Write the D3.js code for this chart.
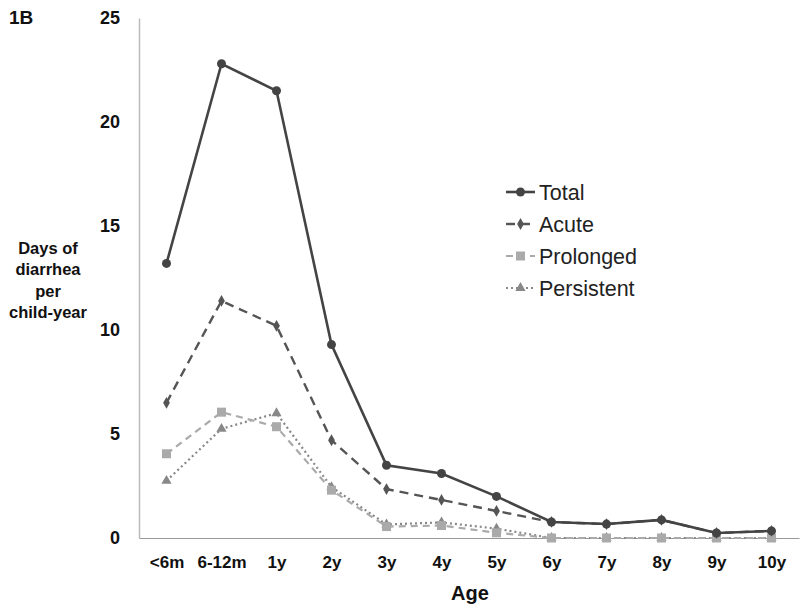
<!DOCTYPE html>
<html>
<head>
<meta charset="utf-8">
<script src="https://cdn.jsdelivr.net/npm/d3@7"></script>
<style>
  body { margin: 0; background: #fff; }
  svg { font-family: "Liberation Sans", Arial, sans-serif; }
</style>
</head>
<body>
<svg width="800" height="605"></svg>
<script>
const ages = ['<6m', '6-12m', '1y', '2y', '3y', '4y', '5y', '6y', '7y', '8y', '9y', '10y'];
const total = [13.2, 22.8, 21.5, 9.3, 3.5, 3.1, 2.0, 0.77, 0.67, 0.87, 0.24, 0.34];
const acute = [6.5, 11.4, 10.2, 4.7, 2.35, 1.83, 1.3, 0.77, 0.67, 0.87, 0.24, 0.34];
const prolonged = [4.05, 6.05, 5.35, 2.3, 0.55, 0.6, 0.25, 0, 0, 0, 0, 0];
const persistent = [2.75, 5.25, 6.0, 2.45, 0.65, 0.75, 0.45, 0, 0, 0, 0, 0];
const yTicks = [0, 5, 10, 15, 20, 25];

const series = [
  { name: 'Total', values: total, color: '#444', dash: null, width: 2.6, marker: 'circle' },
  { name: 'Acute', values: acute, color: '#555', dash: '9,6', width: 2.4, marker: 'diamond' },
  { name: 'Prolonged', values: prolonged, color: '#aaa', dash: '7,5', width: 2.2, marker: 'square' },
  { name: 'Persistent', values: persistent, color: '#888', dash: '2,3', width: 2.2, marker: 'triangle' }
];

const svg = d3.select('svg');

const x = d3.scalePoint().domain(ages).range([139, 799]).padding(0.5);
const y = d3.scaleLinear().domain([0, 25]).range([538, 18]);

// y axis
const yAxis = svg.append('g')
  .attr('transform', 'translate(139,0)')
  .call(d3.axisLeft(y).tickValues(yTicks).tickSize(0).tickPadding(19));
yAxis.select('.domain').attr('stroke', '#bbb').attr('stroke-width', 1.5);
yAxis.selectAll('text')
  .attr('font-size', 18).attr('font-weight', 'bold').attr('fill', '#111')
  .attr('font-family', '"Liberation Sans", Arial, sans-serif');

// x axis
const xAxis = svg.append('g')
  .attr('transform', 'translate(0,538)')
  .call(d3.axisBottom(x).tickSize(0).tickPadding(18));
xAxis.select('.domain').attr('stroke', '#999').attr('stroke-width', 1);
xAxis.selectAll('text')
  .attr('font-size', 17).attr('font-weight', 'bold').attr('fill', '#111')
  .attr('font-family', '"Liberation Sans", Arial, sans-serif');

const line = d3.line().x((d, i) => x(ages[i])).y(d => y(d));

function drawMarker(g, type, cx, cy, color) {
  if (type === 'circle') {
    g.append('circle').attr('cx', cx).attr('cy', cy).attr('r', 4.5).attr('fill', color);
  } else if (type === 'diamond') {
    g.append('path').attr('d', d3.symbol(d3.symbolDiamond, 40)())
      .attr('transform', `translate(${cx},${cy})`).attr('fill', color);
  } else if (type === 'square') {
    g.append('rect').attr('x', cx - 4.5).attr('y', cy - 4.5).attr('width', 9).attr('height', 9).attr('fill', color);
  } else {
    g.append('path').attr('d', d3.symbol(d3.symbolTriangle, 45)())
      .attr('transform', `translate(${cx},${cy})`).attr('fill', color);
  }
}

// draw from back to front
series.slice().reverse().forEach(s => {
  const g = svg.append('g');
  g.append('path')
    .attr('d', line(s.values))
    .attr('fill', 'none')
    .attr('stroke', s.color)
    .attr('stroke-width', s.width)
    .attr('stroke-dasharray', s.dash);
  s.values.forEach((v, i) => drawMarker(g, s.marker, x(ages[i]), y(v), s.color));
});

// legend
const legend = svg.append('g').attr('transform', 'translate(506,192)');
series.forEach((s, i) => {
  const row = legend.append('g').attr('transform', `translate(0,${i * 32})`);
  row.append('line').attr('x1', 0).attr('x2', 29).attr('y1', 0).attr('y2', 0)
    .attr('stroke', s.color).attr('stroke-width', s.width).attr('stroke-dasharray', s.dash);
  drawMarker(row, s.marker, 14.5, 0, s.color);
  row.append('text').attr('x', 33).attr('y', 7.5).attr('font-size', 21.5).attr('fill', '#222').text(s.name);
});

// titles
svg.append('text').attr('x', 9).attr('y', 24).attr('font-size', 19).attr('font-weight', 'bold').attr('fill', '#111').text('1B');

svg.append('text').attr('x', 470).attr('y', 600).attr('text-anchor', 'middle')
  .attr('font-size', 20).attr('font-weight', 'bold').attr('fill', '#111').text('Age');

const yTitle = ['Days of', 'diarrhea', 'per', 'child-year'];
svg.append('text').attr('text-anchor', 'middle').attr('font-size', 16.5).attr('font-weight', 'bold').attr('fill', '#111')
  .selectAll('tspan').data(yTitle).join('tspan')
  .attr('x', 48).attr('y', (d, i) => 254 + i * 21.3).text(d => d);
</script>
</body>
</html>
